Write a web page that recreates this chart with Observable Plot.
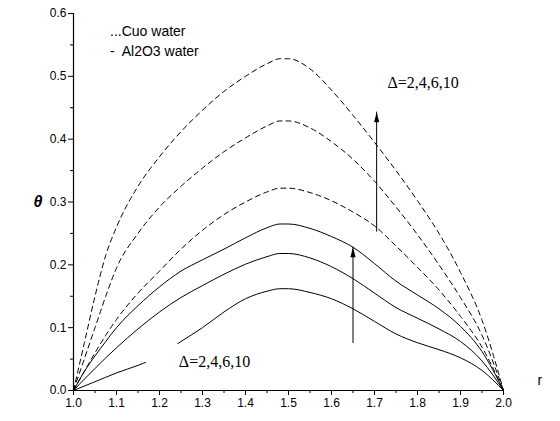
<!DOCTYPE html>
<html><head><meta charset="utf-8">
<script src="https://cdn.jsdelivr.net/npm/d3@7"></script>
<script src="https://cdn.jsdelivr.net/npm/@observablehq/plot@0.6"></script>
<style>body{margin:0;background:#fff} svg{display:block}</style>
</head><body><div id="chart"></div>
<script>
const rValues = [1.0,1.025,1.05,1.075,1.1,1.15,1.2,1.25,1.3,1.35,1.4,1.45,1.48,1.5,1.55,1.6,1.65,1.7,1.75,1.8,1.85,1.9,1.95,2.0];
// CuO-water (dashed)
const cuoA = [0,0.075,0.15,0.215,0.26,0.325,0.372,0.412,0.446,0.476,0.5,0.52,0.528,0.528,0.512,0.478,0.438,0.395,0.35,0.302,0.25,0.188,0.112,0];
const cuoB = [0,0.05,0.1,0.15,0.195,0.25,0.292,0.325,0.354,0.38,0.402,0.421,0.429,0.429,0.418,0.396,0.368,0.333,0.292,0.248,0.2,0.148,0.088,0];
const cuoC = [0,0.03,0.06,0.088,0.113,0.155,0.19,0.225,0.255,0.28,0.3,0.316,0.322,0.322,0.315,0.302,0.284,0.262,0.23,0.196,0.16,0.118,0.069,0];
// Al2O3-water (solid)
const alA = [0,0.03,0.055,0.078,0.1,0.135,0.165,0.19,0.208,0.225,0.243,0.259,0.265,0.265,0.258,0.245,0.228,0.202,0.174,0.152,0.13,0.102,0.062,0];
const alB = [0,0.018,0.035,0.052,0.068,0.098,0.125,0.148,0.167,0.185,0.201,0.213,0.218,0.218,0.211,0.197,0.178,0.155,0.132,0.115,0.098,0.078,0.047,0];
const alC = [0,0.007,0.014,0.021,0.028,0.04,0.055,0.078,0.1,0.125,0.146,0.158,0.162,0.162,0.156,0.146,0.13,0.11,0.09,0.076,0.065,0.052,0.032,0];

const xTicks = [1.0,1.1,1.2,1.3,1.4,1.5,1.6,1.7,1.8,1.9,2.0];
const xMinor = [1.05,1.15,1.25,1.35,1.45,1.55,1.65,1.75,1.85,1.95];
const yTicks = [0.0,0.1,0.2,0.3,0.4,0.5,0.6];
const yMinor = [0.05,0.15,0.25,0.35,0.45,0.55];

const legendLines = ["...Cuo water", "-  Al2O3 water"];
const legendR = [1.085, 1.085];
const legendT = [0.572, 0.540];
const deltaText = "Δ=2,4,6,10";
const deltaR = [1.73, 1.245];
const deltaT = [0.49, 0.045];
const arrowR = [1.705, 1.65];
const arrowFrom = [0.252, 0.075];
const arrowTo = [0.443, 0.228];
const gapRange = [1.172, 1.238];

const toRows = (vals, group) => rValues.map((r, i) => ({r, t: vals[i], group}));
const dashed = [...toRows(cuoA,"a"), ...toRows(cuoB,"b"), ...toRows(cuoC,"c")];
const solid = [...toRows(alA,"a"), ...toRows(alB,"b"), ...toRows(alC,"c")];

// white mask over part of the lowest solid curve (as in the figure)
const gapRows = (() => {
  const rows = [];
  for (let k = 0; k <= 20; k++) {
    const r = gapRange[0] + (gapRange[1]-gapRange[0])*k/20;
    const t = d3.scaleLinear().domain(rValues).range(alC)(r);
    rows.push({r, t});
  }
  return rows;
})();

const arrows = arrowR.map((r,i) => ({r, t1: arrowFrom[i], t2: arrowTo[i]}));
const headSymbol = {draw(ctx){ ctx.moveTo(0,0); ctx.lineTo(2.6,10); ctx.lineTo(-2.6,10); ctx.closePath(); }};

const font = "Liberation Sans, Arial, sans-serif";
const chart = Plot.plot({
  width: 560, height: 421,
  marginLeft: 73, marginRight: 57, marginTop: 13, marginBottom: 31,
  style: {fontFamily: font, fontSize: "12px", color: "#000", background: "#fff"},
  x: {domain: [1, 2]},
  y: {domain: [0, 0.6]},
  marks: [
    Plot.axisX({ticks: xTicks, tickFormat: d3.format(".1f"), tickSize: 5, tickPadding: 3, label: null, fontSize: 12}),
    Plot.axisX({ticks: xMinor, tickSize: 3, tickFormat: () => "", label: null}),
    Plot.axisY({ticks: yTicks, tickFormat: d3.format(".1f"), tickSize: 5, tickPadding: 2, label: null, fontSize: 12}),
    Plot.axisY({ticks: yMinor, tickSize: 3, tickFormat: () => "", label: null}),
    Plot.line(dashed, {x: "r", y: "t", z: "group", stroke: "#000", strokeWidth: 1, strokeDasharray: "5,4", curve: "monotone-x"}),
    Plot.line(solid, {x: "r", y: "t", z: "group", stroke: "#000", strokeWidth: 1, curve: "monotone-x"}),
    Plot.line(gapRows, {x: "r", y: "t", stroke: "#fff", strokeWidth: 4}),
    Plot.ruleY([0], {stroke: "#000", strokeWidth: 1.2}),
    Plot.ruleX([1], {stroke: "#000", strokeWidth: 1.2}),
    Plot.ruleX(arrows, {x: "r", y1: "t1", y2: "t2", stroke: "#000", strokeWidth: 1}),
    Plot.dot(arrows, {x: "r", y: "t2", symbol: headSymbol, fill: "#000", stroke: null, r: 4}),
    Plot.text(legendLines, {x: (d,i) => legendR[i], y: (d,i) => legendT[i], text: d => d, textAnchor: "start", fontSize: 14, fontFamily: font}),
    Plot.text(deltaR, {x: d => d, y: (d,i) => deltaT[i], text: () => deltaText, textAnchor: "start", fontSize: 16, fontFamily: "Liberation Serif, Times New Roman, serif"}),
    Plot.text(["θ"], {frameAnchor: "left", y: 0.3, dx: -40, fontSize: 16, fontWeight: "bold", fontStyle: "italic", fontFamily: font}),
    Plot.text(["r"], {frameAnchor: "bottom-right", dx: 34, dy: -6, fontSize: 14, textAnchor: "start", fontFamily: font})
  ]
});
document.getElementById("chart").append(chart);
</script>
</body></html>
